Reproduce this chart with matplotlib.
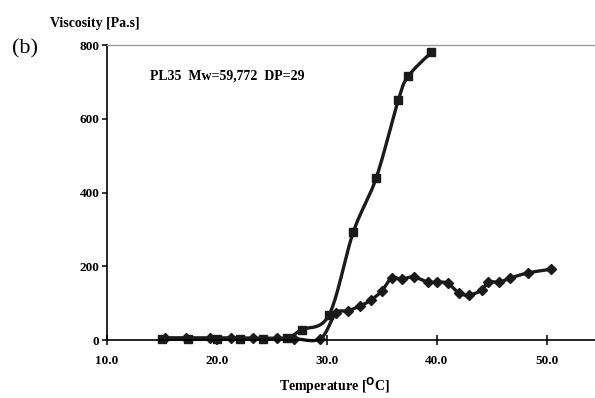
import numpy as np
import matplotlib.pyplot as plt

plt.rcParams['font.family'] = ['Liberation Serif', 'DejaVu Serif']

# Datos
temp_cuad = [15.0, 17.4, 20.0, 22.1, 24.2, 26.4, 27.7, 30.2, 32.4, 34.5, 36.5, 37.4, 39.5]
visc_cuad = [2, 2, 2, 3, 3, 6, 28, 68, 292, 440, 650, 715, 780]

temp_romb = [15.3, 17.2, 19.4, 21.3, 23.3, 25.5, 27.0, 29.4, 30.8, 31.9, 33.0, 34.0,
             35.0, 35.9, 36.8, 37.9, 39.2, 40.0, 41.0, 42.0, 42.9, 44.1, 44.7,
             45.7, 46.7, 48.3, 50.4]
visc_romb = [6, 6, 6, 6, 5, 5, 4, 3, 72, 79, 92, 108, 133, 168, 165, 171, 157,
             157, 154, 128, 122, 135, 157, 157, 168, 182, 192]

xticks = [10, 20, 30, 40, 50]
yticks = [0, 200, 400, 600, 800]


def suavizar(x, y, n=20):
    # curva tipo Catmull-Rom, como la linea suavizada de Excel
    x = np.asarray(x, float)
    y = np.asarray(y, float)
    px = np.concatenate([[x[0]], x, [x[-1]]])
    py = np.concatenate([[y[0]], y, [y[-1]]])
    xs, ys = [], []
    for i in range(1, len(px) - 2):
        t = np.linspace(0, 1, n, endpoint=False)
        for p, out in ((px, xs), (py, ys)):
            p0, p1, p2, p3 = p[i - 1], p[i], p[i + 1], p[i + 2]
            m1 = (p2 - p0) / 6.0
            m2 = (p3 - p1) / 6.0
            b = ((1 - t) ** 3 * p1 + 3 * (1 - t) ** 2 * t * (p1 + m1)
                 + 3 * (1 - t) * t ** 2 * (p2 - m2) + t ** 3 * p2)
            out.extend(b)
    xs.append(x[-1])
    ys.append(y[-1])
    return np.array(xs), np.array(ys)


fig = plt.figure(figsize=(5.95, 3.98), dpi=100)
ax = fig.add_axes([0.1798, 0.1457, 0.8202, 0.7412])

for tx, vy, mk, ms in ((temp_cuad, visc_cuad, 's', 6), (temp_romb, visc_romb, 'D', 5)):
    sx, sy = suavizar(tx, vy)
    ax.plot(sx, sy, color='#1a1a1a', lw=2.4, clip_on=False)
    ax.plot(tx, vy, ls='none', marker=mk, ms=ms, color='#1a1a1a', clip_on=False)

ax.set_xlim(10, 54.4)
ax.set_ylim(0, 800)
ax.set_xticks(xticks)
ax.set_xticklabels(['%.1f' % v for v in xticks])
ax.set_yticks(yticks)

for s in ['left', 'bottom']:
    ax.spines[s].set_linewidth(1.2)
ax.spines['right'].set_visible(False)
ax.spines['top'].set_color('#999999')
ax.spines['top'].set_linewidth(1.0)

ax.tick_params(axis='y', direction='out', length=3.5, width=1.1, labelsize=9.5, pad=2)
ax.tick_params(axis='x', direction='inout', length=7, width=1.1, labelsize=9.5, pad=7)
for lab in ax.get_xticklabels() + ax.get_yticklabels():
    lab.set_fontweight('bold')

ax.text(13.9, 707, 'PL35  Mw=59,772  DP=29', fontsize=10, fontweight='bold')
fig.text(0.084, 0.932, 'Viscosity [Pa.s]', fontsize=10, fontweight='bold', va='baseline')
fig.text(0.02, 0.877, '(b)', fontsize=16, va='center')
fig.text(0.563, 0.018, 'Temperature [$\\mathbf{^{O}}$C]', fontsize=10,
         fontweight='bold', ha='center')

fig.savefig('out.png', dpi=100)
